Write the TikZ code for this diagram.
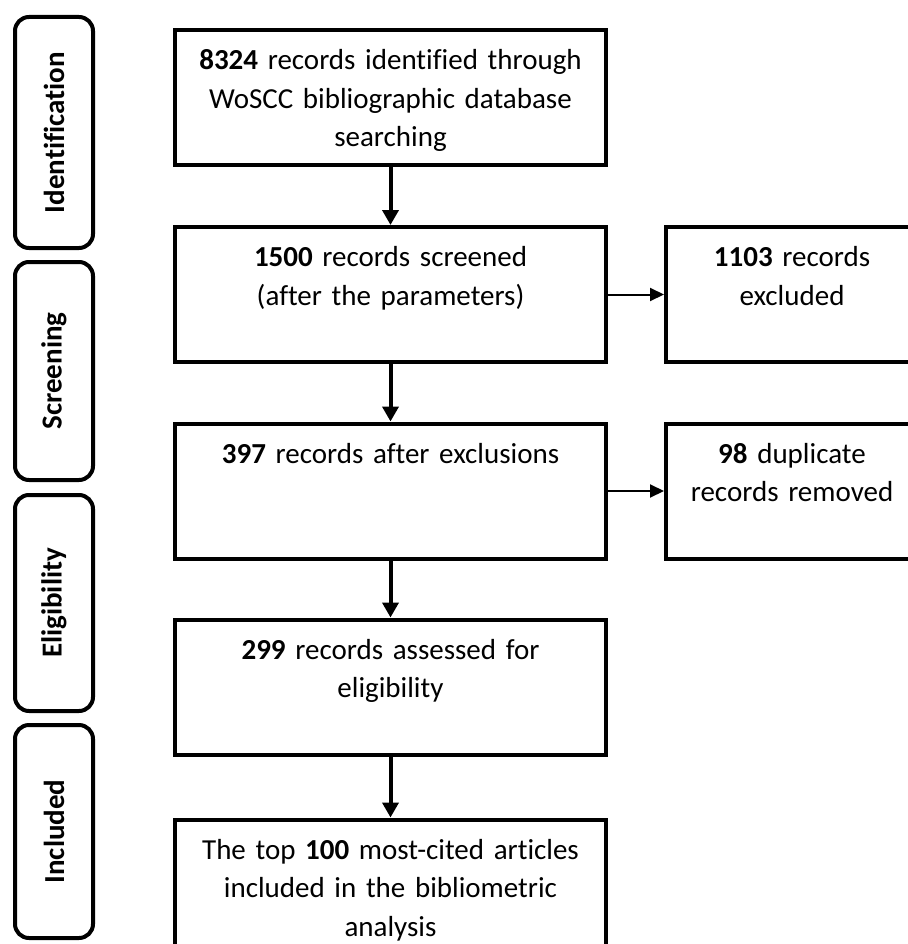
\documentclass[tikz,border=0pt]{standalone}
\usepackage{fontspec}
\setmainfont[Ligatures=NoCommon]{Carlito}
\usetikzlibrary{arrows.meta, positioning}
\definecolor{cline}{HTML}{000000}
\tikzset{
  every picture/.style={line width=4pt},
  flowbox/.style={draw=cline, fill=white, minimum width=431pt, text width=420pt, align=center,
    inner sep=0pt, text height=39.5pt, text depth=95.5pt, font=\fontsize{29}{38.5}\selectfont},
  sidebox/.style={flowbox, minimum width=252pt, text width=244pt},
  stage/.style={draw=cline, rounded corners=14pt, rotate=90, minimum height=78pt, inner sep=0pt,
    font=\fontsize{29}{34}\selectfont\bfseries},
  arrow/.style={-{Triangle[length=15pt, width=16pt]}, draw=cline, line width=4pt},
  thinarrow/.style={-{Triangle[length=14pt, width=13pt]}, draw=cline, line width=2pt},
}

\begin{document}
\begin{tikzpicture}[x=1pt, y=-1pt]
  \useasboundingbox (0,0) rectangle (907,944);
  % stages on the left
  \node[stage, minimum width=231pt] (sIdent) at (54,132.5) {Identification};
  \node[stage, minimum width=218pt] (sScreen) at (54,371) {Screening};
  \node[stage, minimum width=216pt] (sElig) at (54,603) {Eligibility};
  \node[stage, minimum width=213pt] (sIncl) at (54,831.5) {Included};
  % main flow
  \node[flowbox] (ident) at (390.5,98) {\textbf{8324} records identified through\\WoSCC bibliographic database\\searching};
  \node[flowbox] (screen) at (390.5,294.5) {\textbf{1500} records screened\\(after the parameters)};
  \node[flowbox] (after) at (390.5,491) {\textbf{397} records after exclusions};
  \node[flowbox] (assess) at (390.5,687) {\textbf{299} records assessed for\\eligibility};
  \node[flowbox] (incl) at (390.5,887) {The top \textbf{100} most-cited articles\\included in the bibliometric\\analysis};
  % removed records
  \node[sidebox] (excl) at (792,294.5) {\textbf{1103} records\\excluded};
  \node[sidebox] (dupl) at (792,491) {\textbf{98} duplicate\\records removed};
  \draw[arrow] (ident.south) -- (screen.north);
  \draw[arrow] (screen.south) -- (after.north);
  \draw[arrow] (after.south) -- (assess.north);
  \draw[arrow] (assess.south) -- (incl.north);
  \draw[thinarrow] (screen.east) -- (excl.west);
  \draw[thinarrow] (after.east) -- (dupl.west);
\end{tikzpicture}
\end{document}
